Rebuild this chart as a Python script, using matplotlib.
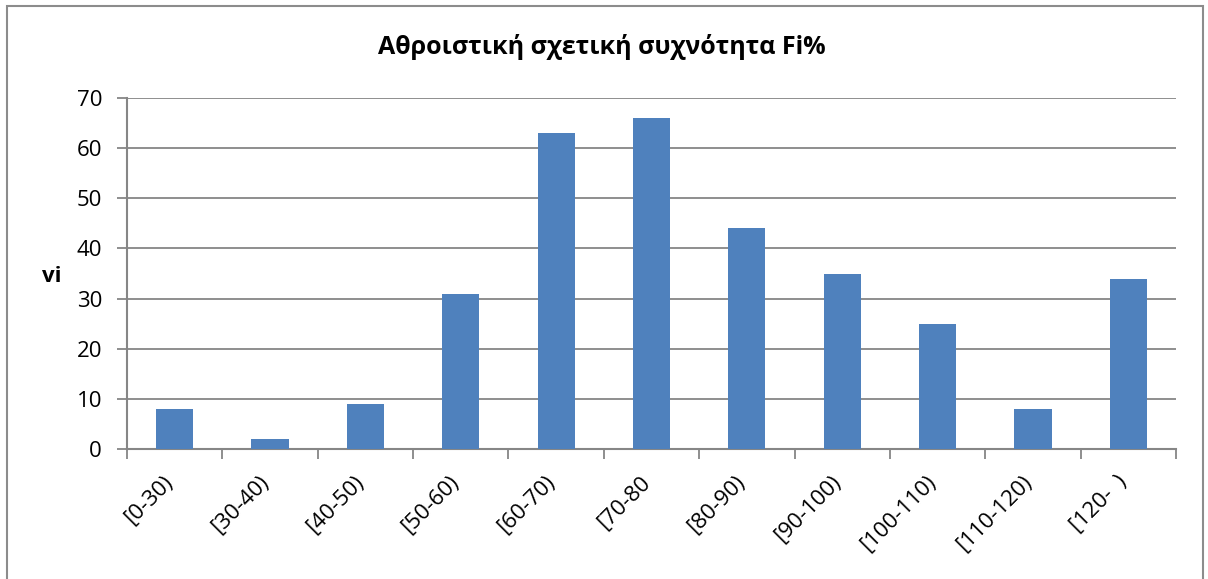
import matplotlib
matplotlib.use("Agg")
import matplotlib.pyplot as plt
import matplotlib.transforms as mtransforms
from matplotlib.patches import Rectangle
import numpy as np

categories = ["[0-30)", "[30-40)", "[40-50)", "[50-60)", "[60-70)", "[70-80",
              "[80-90)", "[90-100)", "[100-110)", "[110-120)", "[120-  )"]
values = [8, 2, 9, 31, 63, 66, 44, 35, 25, 8, 34]
yticks = [0, 10, 20, 30, 40, 50, 60, 70]
title = "Αθροιστική σχετική συχνότητα Fi%"
ylabel = "vi"

plt.rcParams['font.family'] = ['Open Sans', 'DejaVu Sans']
W, H = 1208, 579
fig = plt.figure(figsize=(W/100, H/100), dpi=100)
fig.patch.set_facecolor('white')

# outer chart border
fig.patches.append(Rectangle((7/W, -0.05), (1203-7)/W, 1 - 6/H + 0.05,
                             transform=fig.transFigure, fill=False,
                             edgecolor='#8c8c8c', linewidth=1.5))

left, right, top, bottom = 127, 1176, 98, 449
ax = fig.add_axes([left/W, 1-bottom/H, (right-left)/W, (bottom-top)/H])
x = np.arange(len(categories))
ax.bar(x, values, width=0.39, color='#4F81BD', zorder=3)
ax.set_xlim(-0.5, len(categories)-0.5)
ax.set_ylim(0, 70)
ax.set_yticks(yticks)
ax.grid(axis='y', color='#868686', linewidth=1.3, zorder=0)
for s in ['top', 'right']:
    ax.spines[s].set_visible(False)
for s in ['left', 'bottom']:
    ax.spines[s].set_color('#868686')
    ax.spines[s].set_linewidth(1.5)
ax.tick_params(axis='y', length=7, width=1.3, color='#868686', labelsize=16, pad=11)
ax.set_xticks(x)
ax.set_xticklabels(categories, rotation=45, ha='right', va='top',
                   rotation_mode='anchor', fontsize=16)
ax.tick_params(axis='x', length=0, pad=12)
offset = mtransforms.ScaledTranslation(-12/100, -6/100, fig.dpi_scale_trans)
for lab in ax.get_xticklabels():
    lab.set_transform(lab.get_transform() + offset)
ax.set_xticks(np.arange(-0.5, len(categories)), minor=True)
ax.tick_params(axis='x', which='minor', length=7, width=1.3, color='#868686')

fig.text(602/W, 1-47/H, title, ha='center', va='center', fontsize=18, fontweight='bold')
fig.text(52/W, 1-277/H, ylabel, ha='center', va='center', fontsize=16, fontweight='bold')

fig.savefig("out.png", dpi=100)
